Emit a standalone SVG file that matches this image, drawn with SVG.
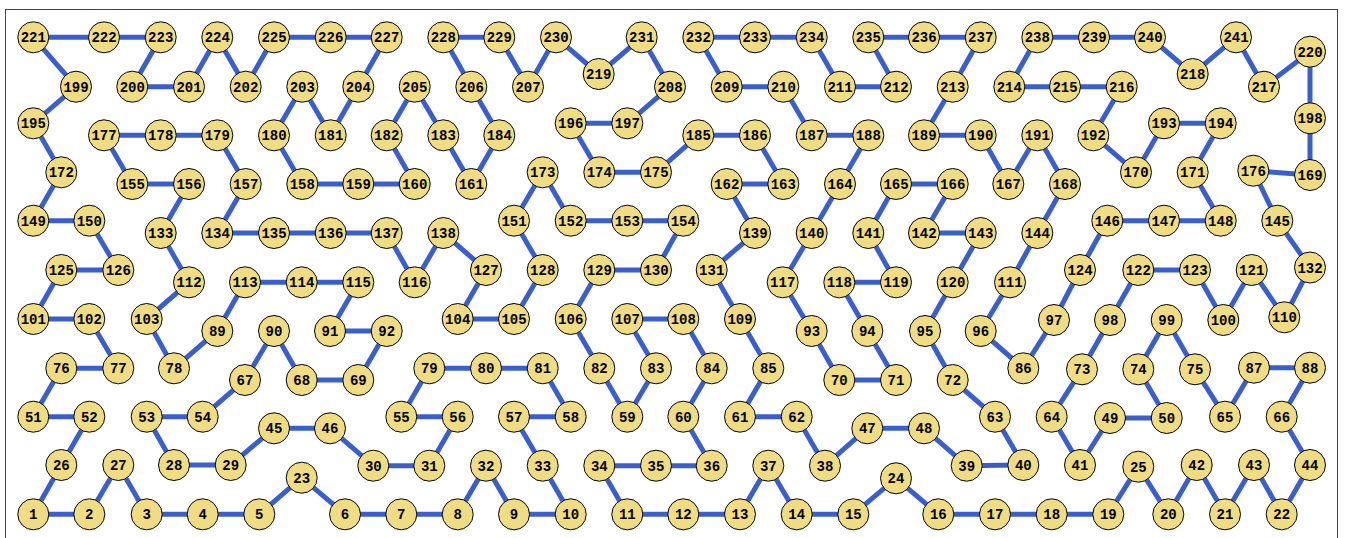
<svg xmlns="http://www.w3.org/2000/svg" width="1345" height="538" viewBox="0 0 1345 538">
<style>
.e line{stroke:#3a5fcd;stroke-width:5;stroke-linecap:butt}
.n circle{fill:#f0dc82;stroke:#000;stroke-width:1}
.n text{font-family:"Liberation Mono","DejaVu Sans Mono",monospace;font-weight:bold;font-size:14px;text-anchor:middle;fill:#000}
</style>
<rect x="0" y="0" width="1345" height="538" fill="#fff"/>
<rect x="5.5" y="9.5" width="1332" height="540" fill="none" stroke="#444" stroke-width="1"/>
<g id="edges" class="e">
<line x1="33.3" y1="514.3" x2="89.3" y2="514.3"/>
<line x1="89.3" y1="514.3" x2="118.3" y2="465"/>
<line x1="118.3" y1="465" x2="146.7" y2="514.3"/>
<line x1="146.7" y1="514.3" x2="202.7" y2="514.3"/>
<line x1="202.7" y1="514.3" x2="259.3" y2="514.3"/>
<line x1="259.3" y1="514.3" x2="301.7" y2="477.7"/>
<line x1="301.7" y1="477.7" x2="345" y2="514.3"/>
<line x1="345" y1="514.3" x2="401.3" y2="514.3"/>
<line x1="401.3" y1="514.3" x2="457.7" y2="514.3"/>
<line x1="457.7" y1="514.3" x2="486" y2="465.7"/>
<line x1="486" y1="465.7" x2="514" y2="514.3"/>
<line x1="514" y1="514.3" x2="570.7" y2="514.3"/>
<line x1="570.7" y1="514.3" x2="542.7" y2="465.7"/>
<line x1="542.7" y1="465.7" x2="514" y2="416.7"/>
<line x1="514" y1="416.7" x2="570.7" y2="416.7"/>
<line x1="570.7" y1="416.7" x2="542.7" y2="368.3"/>
<line x1="542.7" y1="368.3" x2="486" y2="368.3"/>
<line x1="486" y1="368.3" x2="429.3" y2="368.3"/>
<line x1="429.3" y1="368.3" x2="401.3" y2="416.7"/>
<line x1="401.3" y1="416.7" x2="457.7" y2="416.7"/>
<line x1="457.7" y1="416.7" x2="429.3" y2="465.7"/>
<line x1="429.3" y1="465.7" x2="373.3" y2="465.7"/>
<line x1="373.3" y1="465.7" x2="330" y2="428.3"/>
<line x1="330" y1="428.3" x2="274" y2="428.3"/>
<line x1="274" y1="428.3" x2="230.7" y2="465"/>
<line x1="230.7" y1="465" x2="174" y2="465"/>
<line x1="174" y1="465" x2="146.7" y2="416.7"/>
<line x1="146.7" y1="416.7" x2="202.7" y2="416.7"/>
<line x1="202.7" y1="416.7" x2="245" y2="380"/>
<line x1="245" y1="380" x2="274" y2="331"/>
<line x1="274" y1="331" x2="301.7" y2="380"/>
<line x1="301.7" y1="380" x2="358.3" y2="380"/>
<line x1="358.3" y1="380" x2="386.7" y2="331"/>
<line x1="386.7" y1="331" x2="330" y2="331"/>
<line x1="330" y1="331" x2="358.3" y2="282.3"/>
<line x1="358.3" y1="282.3" x2="301.7" y2="282.3"/>
<line x1="301.7" y1="282.3" x2="245" y2="282.3"/>
<line x1="245" y1="282.3" x2="217.3" y2="331"/>
<line x1="217.3" y1="331" x2="174" y2="368.3"/>
<line x1="174" y1="368.3" x2="146.7" y2="319"/>
<line x1="146.7" y1="319" x2="189" y2="282.3"/>
<line x1="189" y1="282.3" x2="160.7" y2="233"/>
<line x1="160.7" y1="233" x2="189" y2="184"/>
<line x1="189" y1="184" x2="132.3" y2="184"/>
<line x1="132.3" y1="184" x2="104" y2="135.3"/>
<line x1="104" y1="135.3" x2="160.7" y2="135.3"/>
<line x1="160.7" y1="135.3" x2="217.3" y2="135.3"/>
<line x1="217.3" y1="135.3" x2="245.7" y2="184"/>
<line x1="245.7" y1="184" x2="217.3" y2="233"/>
<line x1="217.3" y1="233" x2="274" y2="233"/>
<line x1="274" y1="233" x2="330.7" y2="233"/>
<line x1="330.7" y1="233" x2="386.7" y2="233"/>
<line x1="386.7" y1="233" x2="414.7" y2="282.3"/>
<line x1="414.7" y1="282.3" x2="443.3" y2="233"/>
<line x1="443.3" y1="233" x2="486" y2="270"/>
<line x1="486" y1="270" x2="457.7" y2="319"/>
<line x1="457.7" y1="319" x2="514" y2="319"/>
<line x1="514" y1="319" x2="542.7" y2="270"/>
<line x1="542.7" y1="270" x2="514" y2="220.7"/>
<line x1="514" y1="220.7" x2="542.7" y2="172.3"/>
<line x1="542.7" y1="172.3" x2="570.7" y2="220.7"/>
<line x1="570.7" y1="220.7" x2="627.3" y2="220.7"/>
<line x1="627.3" y1="220.7" x2="683.3" y2="220.7"/>
<line x1="683.3" y1="220.7" x2="656" y2="270"/>
<line x1="656" y1="270" x2="599.3" y2="270"/>
<line x1="599.3" y1="270" x2="570.7" y2="319"/>
<line x1="570.7" y1="319" x2="599.3" y2="368.3"/>
<line x1="599.3" y1="368.3" x2="627.3" y2="416.7"/>
<line x1="627.3" y1="416.7" x2="656" y2="368.3"/>
<line x1="656" y1="368.3" x2="627.3" y2="319"/>
<line x1="627.3" y1="319" x2="683.3" y2="319"/>
<line x1="683.3" y1="319" x2="711.7" y2="368.3"/>
<line x1="711.7" y1="368.3" x2="683.3" y2="416.7"/>
<line x1="683.3" y1="416.7" x2="711.7" y2="465.7"/>
<line x1="711.7" y1="465.7" x2="656" y2="465.7"/>
<line x1="656" y1="465.7" x2="599.3" y2="465.7"/>
<line x1="599.3" y1="465.7" x2="627.3" y2="514.3"/>
<line x1="627.3" y1="514.3" x2="683.3" y2="514.3"/>
<line x1="683.3" y1="514.3" x2="740" y2="514.3"/>
<line x1="740" y1="514.3" x2="768.3" y2="465.7"/>
<line x1="768.3" y1="465.7" x2="796.7" y2="514.3"/>
<line x1="796.7" y1="514.3" x2="853.3" y2="514.3"/>
<line x1="853.3" y1="514.3" x2="896" y2="478.3"/>
<line x1="896" y1="478.3" x2="938.3" y2="514.3"/>
<line x1="938.3" y1="514.3" x2="995" y2="514.3"/>
<line x1="995" y1="514.3" x2="1051.7" y2="514.3"/>
<line x1="1051.7" y1="514.3" x2="1108.3" y2="514.3"/>
<line x1="1108.3" y1="514.3" x2="1138.3" y2="466.7"/>
<line x1="1138.3" y1="466.7" x2="1168.3" y2="514.3"/>
<line x1="1168.3" y1="514.3" x2="1196.7" y2="465"/>
<line x1="1196.7" y1="465" x2="1225" y2="514.3"/>
<line x1="1225" y1="514.3" x2="1254" y2="465"/>
<line x1="1254" y1="465" x2="1281.7" y2="514.3"/>
<line x1="1281.7" y1="514.3" x2="1310" y2="465"/>
<line x1="1310" y1="465" x2="1281.7" y2="416.7"/>
<line x1="1281.7" y1="416.7" x2="1310" y2="367.7"/>
<line x1="1310" y1="367.7" x2="1254" y2="367.7"/>
<line x1="1254" y1="367.7" x2="1225" y2="416.7"/>
<line x1="1225" y1="416.7" x2="1195" y2="369.3"/>
<line x1="1195" y1="369.3" x2="1166.7" y2="320"/>
<line x1="1166.7" y1="320" x2="1138.3" y2="369.3"/>
<line x1="1138.3" y1="369.3" x2="1166.7" y2="418"/>
<line x1="1166.7" y1="418" x2="1110" y2="418"/>
<line x1="1110" y1="418" x2="1080" y2="465"/>
<line x1="1080" y1="465" x2="1051.7" y2="416.7"/>
<line x1="1051.7" y1="416.7" x2="1082" y2="369.3"/>
<line x1="1082" y1="369.3" x2="1110" y2="320"/>
<line x1="1110" y1="320" x2="1138.3" y2="270"/>
<line x1="1138.3" y1="270" x2="1195" y2="270"/>
<line x1="1195" y1="270" x2="1223.3" y2="320"/>
<line x1="1223.3" y1="320" x2="1251.7" y2="270"/>
<line x1="1251.7" y1="270" x2="1284.3" y2="317.3"/>
<line x1="1284.3" y1="317.3" x2="1310" y2="267.5"/>
<line x1="1310" y1="267.5" x2="1277.3" y2="220.7"/>
<line x1="1277.3" y1="220.7" x2="1253.3" y2="170.7"/>
<line x1="1253.3" y1="170.7" x2="1310" y2="175"/>
<line x1="1310" y1="175" x2="1310" y2="118.3"/>
<line x1="1310" y1="118.3" x2="1310" y2="51.7"/>
<line x1="1310" y1="51.7" x2="1264" y2="86.7"/>
<line x1="1264" y1="86.7" x2="1236" y2="37.3"/>
<line x1="1236" y1="37.3" x2="1192.7" y2="74"/>
<line x1="1192.7" y1="74" x2="1150" y2="37.3"/>
<line x1="1150" y1="37.3" x2="1094" y2="37.3"/>
<line x1="1094" y1="37.3" x2="1037.3" y2="37.3"/>
<line x1="1037.3" y1="37.3" x2="1009.3" y2="86.7"/>
<line x1="1009.3" y1="86.7" x2="1065" y2="86.7"/>
<line x1="1065" y1="86.7" x2="1121.7" y2="86.7"/>
<line x1="1121.7" y1="86.7" x2="1093.3" y2="135.3"/>
<line x1="1093.3" y1="135.3" x2="1136" y2="172.3"/>
<line x1="1136" y1="172.3" x2="1164" y2="123.3"/>
<line x1="1164" y1="123.3" x2="1220.7" y2="123.3"/>
<line x1="1220.7" y1="123.3" x2="1192.7" y2="172.3"/>
<line x1="1192.7" y1="172.3" x2="1220.7" y2="220.7"/>
<line x1="1220.7" y1="220.7" x2="1164" y2="220.7"/>
<line x1="1164" y1="220.7" x2="1107.3" y2="220.7"/>
<line x1="1107.3" y1="220.7" x2="1080" y2="270"/>
<line x1="1080" y1="270" x2="1054" y2="320"/>
<line x1="1054" y1="320" x2="1023.3" y2="368.3"/>
<line x1="1023.3" y1="368.3" x2="980.7" y2="331"/>
<line x1="980.7" y1="331" x2="1010" y2="282.3"/>
<line x1="1010" y1="282.3" x2="1037.3" y2="233"/>
<line x1="1037.3" y1="233" x2="1065" y2="184"/>
<line x1="1065" y1="184" x2="1037.3" y2="135.3"/>
<line x1="1037.3" y1="135.3" x2="1008.3" y2="184"/>
<line x1="1008.3" y1="184" x2="980.7" y2="135.3"/>
<line x1="980.7" y1="135.3" x2="924" y2="135.3"/>
<line x1="924" y1="135.3" x2="952.7" y2="86.7"/>
<line x1="952.7" y1="86.7" x2="980.7" y2="37.3"/>
<line x1="980.7" y1="37.3" x2="924" y2="37.3"/>
<line x1="924" y1="37.3" x2="868.3" y2="37.3"/>
<line x1="868.3" y1="37.3" x2="896" y2="86.7"/>
<line x1="896" y1="86.7" x2="840" y2="86.7"/>
<line x1="840" y1="86.7" x2="811.7" y2="37.3"/>
<line x1="811.7" y1="37.3" x2="755" y2="37.3"/>
<line x1="755" y1="37.3" x2="698.3" y2="37.3"/>
<line x1="698.3" y1="37.3" x2="726.7" y2="86.7"/>
<line x1="726.7" y1="86.7" x2="783.3" y2="86.7"/>
<line x1="783.3" y1="86.7" x2="811.7" y2="135.3"/>
<line x1="811.7" y1="135.3" x2="868.3" y2="135.3"/>
<line x1="868.3" y1="135.3" x2="840" y2="184"/>
<line x1="840" y1="184" x2="811.7" y2="233"/>
<line x1="811.7" y1="233" x2="782.7" y2="282.3"/>
<line x1="782.7" y1="282.3" x2="811.7" y2="331"/>
<line x1="811.7" y1="331" x2="839.3" y2="380"/>
<line x1="839.3" y1="380" x2="896" y2="380"/>
<line x1="896" y1="380" x2="867.3" y2="331"/>
<line x1="867.3" y1="331" x2="839.3" y2="282.3"/>
<line x1="839.3" y1="282.3" x2="896" y2="282.3"/>
<line x1="896" y1="282.3" x2="868.3" y2="233"/>
<line x1="868.3" y1="233" x2="896" y2="184"/>
<line x1="896" y1="184" x2="952.7" y2="184"/>
<line x1="952.7" y1="184" x2="924" y2="233"/>
<line x1="924" y1="233" x2="980.7" y2="233"/>
<line x1="980.7" y1="233" x2="952.7" y2="282.3"/>
<line x1="952.7" y1="282.3" x2="925" y2="331"/>
<line x1="925" y1="331" x2="952.7" y2="380"/>
<line x1="952.7" y1="380" x2="995" y2="416.7"/>
<line x1="995" y1="416.7" x2="1023.3" y2="465"/>
<line x1="1023.3" y1="465" x2="966.7" y2="465.7"/>
<line x1="966.7" y1="465.7" x2="924" y2="428.3"/>
<line x1="924" y1="428.3" x2="867.3" y2="428.3"/>
<line x1="867.3" y1="428.3" x2="825" y2="465.7"/>
<line x1="825" y1="465.7" x2="796.7" y2="416.7"/>
<line x1="796.7" y1="416.7" x2="740" y2="416.7"/>
<line x1="740" y1="416.7" x2="768.3" y2="368.3"/>
<line x1="768.3" y1="368.3" x2="740" y2="319"/>
<line x1="740" y1="319" x2="711.7" y2="270"/>
<line x1="711.7" y1="270" x2="755" y2="233"/>
<line x1="755" y1="233" x2="726.7" y2="184"/>
<line x1="726.7" y1="184" x2="783.3" y2="184"/>
<line x1="783.3" y1="184" x2="755" y2="135.3"/>
<line x1="755" y1="135.3" x2="698.3" y2="135.3"/>
<line x1="698.3" y1="135.3" x2="656" y2="172.3"/>
<line x1="656" y1="172.3" x2="599.3" y2="172.3"/>
<line x1="599.3" y1="172.3" x2="570.7" y2="123.3"/>
<line x1="570.7" y1="123.3" x2="627.3" y2="123.3"/>
<line x1="627.3" y1="123.3" x2="670" y2="86.7"/>
<line x1="670" y1="86.7" x2="641.7" y2="37.3"/>
<line x1="641.7" y1="37.3" x2="598.7" y2="74"/>
<line x1="598.7" y1="74" x2="556" y2="37.3"/>
<line x1="556" y1="37.3" x2="528" y2="86.7"/>
<line x1="528" y1="86.7" x2="499.3" y2="37.3"/>
<line x1="499.3" y1="37.3" x2="443.3" y2="37.3"/>
<line x1="443.3" y1="37.3" x2="471.3" y2="86.7"/>
<line x1="471.3" y1="86.7" x2="499.3" y2="135.3"/>
<line x1="499.3" y1="135.3" x2="471.3" y2="184"/>
<line x1="471.3" y1="184" x2="443.3" y2="135.3"/>
<line x1="443.3" y1="135.3" x2="414.7" y2="86.7"/>
<line x1="414.7" y1="86.7" x2="386.7" y2="135.3"/>
<line x1="386.7" y1="135.3" x2="414.7" y2="184"/>
<line x1="414.7" y1="184" x2="358.3" y2="184"/>
<line x1="358.3" y1="184" x2="302.3" y2="184"/>
<line x1="302.3" y1="184" x2="274" y2="135.3"/>
<line x1="274" y1="135.3" x2="302.3" y2="86.7"/>
<line x1="302.3" y1="86.7" x2="330.7" y2="135.3"/>
<line x1="330.7" y1="135.3" x2="358.3" y2="86.7"/>
<line x1="358.3" y1="86.7" x2="386.7" y2="37.3"/>
<line x1="386.7" y1="37.3" x2="330.7" y2="37.3"/>
<line x1="330.7" y1="37.3" x2="274" y2="37.3"/>
<line x1="274" y1="37.3" x2="245.7" y2="86.7"/>
<line x1="245.7" y1="86.7" x2="217.3" y2="37.3"/>
<line x1="217.3" y1="37.3" x2="189" y2="86.7"/>
<line x1="189" y1="86.7" x2="132.3" y2="86.7"/>
<line x1="132.3" y1="86.7" x2="160.7" y2="37.3"/>
<line x1="160.7" y1="37.3" x2="104" y2="37.3"/>
<line x1="104" y1="37.3" x2="33.3" y2="37.3"/>
<line x1="33.3" y1="37.3" x2="76" y2="86.7"/>
<line x1="76" y1="86.7" x2="33.3" y2="123.3"/>
<line x1="33.3" y1="123.3" x2="61.3" y2="172.3"/>
<line x1="61.3" y1="172.3" x2="33.3" y2="220.7"/>
<line x1="33.3" y1="220.7" x2="89.3" y2="220.7"/>
<line x1="89.3" y1="220.7" x2="118.3" y2="270"/>
<line x1="118.3" y1="270" x2="61.3" y2="270"/>
<line x1="61.3" y1="270" x2="33.3" y2="319"/>
<line x1="33.3" y1="319" x2="89.3" y2="319"/>
<line x1="89.3" y1="319" x2="118.3" y2="368.3"/>
<line x1="118.3" y1="368.3" x2="61.3" y2="368.3"/>
<line x1="61.3" y1="368.3" x2="33.3" y2="416.7"/>
<line x1="33.3" y1="416.7" x2="89.3" y2="416.7"/>
<line x1="89.3" y1="416.7" x2="61.3" y2="465"/>
<line x1="61.3" y1="465" x2="33.3" y2="514.3"/>
</g>
<g id="nodes" class="n">
<g id="n1" transform="translate(33.3 514.3)"><circle r="15.5"/><text y="5">1</text></g>
<g id="n2" transform="translate(89.3 514.3)"><circle r="15.5"/><text y="5">2</text></g>
<g id="n3" transform="translate(146.7 514.3)"><circle r="15.5"/><text y="5">3</text></g>
<g id="n4" transform="translate(202.7 514.3)"><circle r="15.5"/><text y="5">4</text></g>
<g id="n5" transform="translate(259.3 514.3)"><circle r="15.5"/><text y="5">5</text></g>
<g id="n6" transform="translate(345 514.3)"><circle r="15.5"/><text y="5">6</text></g>
<g id="n7" transform="translate(401.3 514.3)"><circle r="15.5"/><text y="5">7</text></g>
<g id="n8" transform="translate(457.7 514.3)"><circle r="15.5"/><text y="5">8</text></g>
<g id="n9" transform="translate(514 514.3)"><circle r="15.5"/><text y="5">9</text></g>
<g id="n10" transform="translate(570.7 514.3)"><circle r="15.5"/><text y="5">10</text></g>
<g id="n11" transform="translate(627.3 514.3)"><circle r="15.5"/><text y="5">11</text></g>
<g id="n12" transform="translate(683.3 514.3)"><circle r="15.5"/><text y="5">12</text></g>
<g id="n13" transform="translate(740 514.3)"><circle r="15.5"/><text y="5">13</text></g>
<g id="n14" transform="translate(796.7 514.3)"><circle r="15.5"/><text y="5">14</text></g>
<g id="n15" transform="translate(853.3 514.3)"><circle r="15.5"/><text y="5">15</text></g>
<g id="n16" transform="translate(938.3 514.3)"><circle r="15.5"/><text y="5">16</text></g>
<g id="n17" transform="translate(995 514.3)"><circle r="15.5"/><text y="5">17</text></g>
<g id="n18" transform="translate(1051.7 514.3)"><circle r="15.5"/><text y="5">18</text></g>
<g id="n19" transform="translate(1108.3 514.3)"><circle r="15.5"/><text y="5">19</text></g>
<g id="n20" transform="translate(1168.3 514.3)"><circle r="15.5"/><text y="5">20</text></g>
<g id="n21" transform="translate(1225 514.3)"><circle r="15.5"/><text y="5">21</text></g>
<g id="n22" transform="translate(1281.7 514.3)"><circle r="15.5"/><text y="5">22</text></g>
<g id="n23" transform="translate(301.7 477.7)"><circle r="15.5"/><text y="5">23</text></g>
<g id="n24" transform="translate(896 478.3)"><circle r="15.5"/><text y="5">24</text></g>
<g id="n25" transform="translate(1138.3 466.7)"><circle r="15.5"/><text y="5">25</text></g>
<g id="n26" transform="translate(61.3 465)"><circle r="15.5"/><text y="5">26</text></g>
<g id="n27" transform="translate(118.3 465)"><circle r="15.5"/><text y="5">27</text></g>
<g id="n28" transform="translate(174 465)"><circle r="15.5"/><text y="5">28</text></g>
<g id="n29" transform="translate(230.7 465)"><circle r="15.5"/><text y="5">29</text></g>
<g id="n30" transform="translate(373.3 465.7)"><circle r="15.5"/><text y="5">30</text></g>
<g id="n31" transform="translate(429.3 465.7)"><circle r="15.5"/><text y="5">31</text></g>
<g id="n32" transform="translate(486 465.7)"><circle r="15.5"/><text y="5">32</text></g>
<g id="n33" transform="translate(542.7 465.7)"><circle r="15.5"/><text y="5">33</text></g>
<g id="n34" transform="translate(599.3 465.7)"><circle r="15.5"/><text y="5">34</text></g>
<g id="n35" transform="translate(656 465.7)"><circle r="15.5"/><text y="5">35</text></g>
<g id="n36" transform="translate(711.7 465.7)"><circle r="15.5"/><text y="5">36</text></g>
<g id="n37" transform="translate(768.3 465.7)"><circle r="15.5"/><text y="5">37</text></g>
<g id="n38" transform="translate(825 465.7)"><circle r="15.5"/><text y="5">38</text></g>
<g id="n39" transform="translate(966.7 465.7)"><circle r="15.5"/><text y="5">39</text></g>
<g id="n40" transform="translate(1023.3 465)"><circle r="15.5"/><text y="5">40</text></g>
<g id="n41" transform="translate(1080 465)"><circle r="15.5"/><text y="5">41</text></g>
<g id="n42" transform="translate(1196.7 465)"><circle r="15.5"/><text y="5">42</text></g>
<g id="n43" transform="translate(1254 465)"><circle r="15.5"/><text y="5">43</text></g>
<g id="n44" transform="translate(1310 465)"><circle r="15.5"/><text y="5">44</text></g>
<g id="n45" transform="translate(274 428.3)"><circle r="15.5"/><text y="5">45</text></g>
<g id="n46" transform="translate(330 428.3)"><circle r="15.5"/><text y="5">46</text></g>
<g id="n47" transform="translate(867.3 428.3)"><circle r="15.5"/><text y="5">47</text></g>
<g id="n48" transform="translate(924 428.3)"><circle r="15.5"/><text y="5">48</text></g>
<g id="n49" transform="translate(1110 418)"><circle r="15.5"/><text y="5">49</text></g>
<g id="n50" transform="translate(1166.7 418)"><circle r="15.5"/><text y="5">50</text></g>
<g id="n51" transform="translate(33.3 416.7)"><circle r="15.5"/><text y="5">51</text></g>
<g id="n52" transform="translate(89.3 416.7)"><circle r="15.5"/><text y="5">52</text></g>
<g id="n53" transform="translate(146.7 416.7)"><circle r="15.5"/><text y="5">53</text></g>
<g id="n54" transform="translate(202.7 416.7)"><circle r="15.5"/><text y="5">54</text></g>
<g id="n55" transform="translate(401.3 416.7)"><circle r="15.5"/><text y="5">55</text></g>
<g id="n56" transform="translate(457.7 416.7)"><circle r="15.5"/><text y="5">56</text></g>
<g id="n57" transform="translate(514 416.7)"><circle r="15.5"/><text y="5">57</text></g>
<g id="n58" transform="translate(570.7 416.7)"><circle r="15.5"/><text y="5">58</text></g>
<g id="n59" transform="translate(627.3 416.7)"><circle r="15.5"/><text y="5">59</text></g>
<g id="n60" transform="translate(683.3 416.7)"><circle r="15.5"/><text y="5">60</text></g>
<g id="n61" transform="translate(740 416.7)"><circle r="15.5"/><text y="5">61</text></g>
<g id="n62" transform="translate(796.7 416.7)"><circle r="15.5"/><text y="5">62</text></g>
<g id="n63" transform="translate(995 416.7)"><circle r="15.5"/><text y="5">63</text></g>
<g id="n64" transform="translate(1051.7 416.7)"><circle r="15.5"/><text y="5">64</text></g>
<g id="n65" transform="translate(1225 416.7)"><circle r="15.5"/><text y="5">65</text></g>
<g id="n66" transform="translate(1281.7 416.7)"><circle r="15.5"/><text y="5">66</text></g>
<g id="n67" transform="translate(245 380)"><circle r="15.5"/><text y="5">67</text></g>
<g id="n68" transform="translate(301.7 380)"><circle r="15.5"/><text y="5">68</text></g>
<g id="n69" transform="translate(358.3 380)"><circle r="15.5"/><text y="5">69</text></g>
<g id="n70" transform="translate(839.3 380)"><circle r="15.5"/><text y="5">70</text></g>
<g id="n71" transform="translate(896 380)"><circle r="15.5"/><text y="5">71</text></g>
<g id="n72" transform="translate(952.7 380)"><circle r="15.5"/><text y="5">72</text></g>
<g id="n73" transform="translate(1082 369.3)"><circle r="15.5"/><text y="5">73</text></g>
<g id="n74" transform="translate(1138.3 369.3)"><circle r="15.5"/><text y="5">74</text></g>
<g id="n75" transform="translate(1195 369.3)"><circle r="15.5"/><text y="5">75</text></g>
<g id="n76" transform="translate(61.3 368.3)"><circle r="15.5"/><text y="5">76</text></g>
<g id="n77" transform="translate(118.3 368.3)"><circle r="15.5"/><text y="5">77</text></g>
<g id="n78" transform="translate(174 368.3)"><circle r="15.5"/><text y="5">78</text></g>
<g id="n79" transform="translate(429.3 368.3)"><circle r="15.5"/><text y="5">79</text></g>
<g id="n80" transform="translate(486 368.3)"><circle r="15.5"/><text y="5">80</text></g>
<g id="n81" transform="translate(542.7 368.3)"><circle r="15.5"/><text y="5">81</text></g>
<g id="n82" transform="translate(599.3 368.3)"><circle r="15.5"/><text y="5">82</text></g>
<g id="n83" transform="translate(656 368.3)"><circle r="15.5"/><text y="5">83</text></g>
<g id="n84" transform="translate(711.7 368.3)"><circle r="15.5"/><text y="5">84</text></g>
<g id="n85" transform="translate(768.3 368.3)"><circle r="15.5"/><text y="5">85</text></g>
<g id="n86" transform="translate(1023.3 368.3)"><circle r="15.5"/><text y="5">86</text></g>
<g id="n87" transform="translate(1254 367.7)"><circle r="15.5"/><text y="5">87</text></g>
<g id="n88" transform="translate(1310 367.7)"><circle r="15.5"/><text y="5">88</text></g>
<g id="n89" transform="translate(217.3 331)"><circle r="15.5"/><text y="5">89</text></g>
<g id="n90" transform="translate(274 331)"><circle r="15.5"/><text y="5">90</text></g>
<g id="n91" transform="translate(330 331)"><circle r="15.5"/><text y="5">91</text></g>
<g id="n92" transform="translate(386.7 331)"><circle r="15.5"/><text y="5">92</text></g>
<g id="n93" transform="translate(811.7 331)"><circle r="15.5"/><text y="5">93</text></g>
<g id="n94" transform="translate(867.3 331)"><circle r="15.5"/><text y="5">94</text></g>
<g id="n95" transform="translate(925 331)"><circle r="15.5"/><text y="5">95</text></g>
<g id="n96" transform="translate(980.7 331)"><circle r="15.5"/><text y="5">96</text></g>
<g id="n97" transform="translate(1054 320)"><circle r="15.5"/><text y="5">97</text></g>
<g id="n98" transform="translate(1110 320)"><circle r="15.5"/><text y="5">98</text></g>
<g id="n99" transform="translate(1166.7 320)"><circle r="15.5"/><text y="5">99</text></g>
<g id="n100" transform="translate(1223.3 320)"><circle r="15.5"/><text y="5">100</text></g>
<g id="n101" transform="translate(33.3 319)"><circle r="15.5"/><text y="5">101</text></g>
<g id="n102" transform="translate(89.3 319)"><circle r="15.5"/><text y="5">102</text></g>
<g id="n103" transform="translate(146.7 319)"><circle r="15.5"/><text y="5">103</text></g>
<g id="n104" transform="translate(457.7 319)"><circle r="15.5"/><text y="5">104</text></g>
<g id="n105" transform="translate(514 319)"><circle r="15.5"/><text y="5">105</text></g>
<g id="n106" transform="translate(570.7 319)"><circle r="15.5"/><text y="5">106</text></g>
<g id="n107" transform="translate(627.3 319)"><circle r="15.5"/><text y="5">107</text></g>
<g id="n108" transform="translate(683.3 319)"><circle r="15.5"/><text y="5">108</text></g>
<g id="n109" transform="translate(740 319)"><circle r="15.5"/><text y="5">109</text></g>
<g id="n110" transform="translate(1284.3 317.3)"><circle r="15.5"/><text y="5">110</text></g>
<g id="n111" transform="translate(1010 282.3)"><circle r="15.5"/><text y="5">111</text></g>
<g id="n112" transform="translate(189 282.3)"><circle r="15.5"/><text y="5">112</text></g>
<g id="n113" transform="translate(245 282.3)"><circle r="15.5"/><text y="5">113</text></g>
<g id="n114" transform="translate(301.7 282.3)"><circle r="15.5"/><text y="5">114</text></g>
<g id="n115" transform="translate(358.3 282.3)"><circle r="15.5"/><text y="5">115</text></g>
<g id="n116" transform="translate(414.7 282.3)"><circle r="15.5"/><text y="5">116</text></g>
<g id="n117" transform="translate(782.7 282.3)"><circle r="15.5"/><text y="5">117</text></g>
<g id="n118" transform="translate(839.3 282.3)"><circle r="15.5"/><text y="5">118</text></g>
<g id="n119" transform="translate(896 282.3)"><circle r="15.5"/><text y="5">119</text></g>
<g id="n120" transform="translate(952.7 282.3)"><circle r="15.5"/><text y="5">120</text></g>
<g id="n121" transform="translate(1251.7 270)"><circle r="15.5"/><text y="5">121</text></g>
<g id="n122" transform="translate(1138.3 270)"><circle r="15.5"/><text y="5">122</text></g>
<g id="n123" transform="translate(1195 270)"><circle r="15.5"/><text y="5">123</text></g>
<g id="n124" transform="translate(1080 270)"><circle r="15.5"/><text y="5">124</text></g>
<g id="n125" transform="translate(61.3 270)"><circle r="15.5"/><text y="5">125</text></g>
<g id="n126" transform="translate(118.3 270)"><circle r="15.5"/><text y="5">126</text></g>
<g id="n127" transform="translate(486 270)"><circle r="15.5"/><text y="5">127</text></g>
<g id="n128" transform="translate(542.7 270)"><circle r="15.5"/><text y="5">128</text></g>
<g id="n129" transform="translate(599.3 270)"><circle r="15.5"/><text y="5">129</text></g>
<g id="n130" transform="translate(656 270)"><circle r="15.5"/><text y="5">130</text></g>
<g id="n131" transform="translate(711.7 270)"><circle r="15.5"/><text y="5">131</text></g>
<g id="n132" transform="translate(1310 267.5)"><circle r="15.5"/><text y="5">132</text></g>
<g id="n133" transform="translate(160.7 233)"><circle r="15.5"/><text y="5">133</text></g>
<g id="n134" transform="translate(217.3 233)"><circle r="15.5"/><text y="5">134</text></g>
<g id="n135" transform="translate(274 233)"><circle r="15.5"/><text y="5">135</text></g>
<g id="n136" transform="translate(330.7 233)"><circle r="15.5"/><text y="5">136</text></g>
<g id="n137" transform="translate(386.7 233)"><circle r="15.5"/><text y="5">137</text></g>
<g id="n138" transform="translate(443.3 233)"><circle r="15.5"/><text y="5">138</text></g>
<g id="n139" transform="translate(755 233)"><circle r="15.5"/><text y="5">139</text></g>
<g id="n140" transform="translate(811.7 233)"><circle r="15.5"/><text y="5">140</text></g>
<g id="n141" transform="translate(868.3 233)"><circle r="15.5"/><text y="5">141</text></g>
<g id="n142" transform="translate(924 233)"><circle r="15.5"/><text y="5">142</text></g>
<g id="n143" transform="translate(980.7 233)"><circle r="15.5"/><text y="5">143</text></g>
<g id="n144" transform="translate(1037.3 233)"><circle r="15.5"/><text y="5">144</text></g>
<g id="n145" transform="translate(1277.3 220.7)"><circle r="15.5"/><text y="5">145</text></g>
<g id="n146" transform="translate(1107.3 220.7)"><circle r="15.5"/><text y="5">146</text></g>
<g id="n147" transform="translate(1164 220.7)"><circle r="15.5"/><text y="5">147</text></g>
<g id="n148" transform="translate(1220.7 220.7)"><circle r="15.5"/><text y="5">148</text></g>
<g id="n149" transform="translate(33.3 220.7)"><circle r="15.5"/><text y="5">149</text></g>
<g id="n150" transform="translate(89.3 220.7)"><circle r="15.5"/><text y="5">150</text></g>
<g id="n151" transform="translate(514 220.7)"><circle r="15.5"/><text y="5">151</text></g>
<g id="n152" transform="translate(570.7 220.7)"><circle r="15.5"/><text y="5">152</text></g>
<g id="n153" transform="translate(627.3 220.7)"><circle r="15.5"/><text y="5">153</text></g>
<g id="n154" transform="translate(683.3 220.7)"><circle r="15.5"/><text y="5">154</text></g>
<g id="n155" transform="translate(132.3 184)"><circle r="15.5"/><text y="5">155</text></g>
<g id="n156" transform="translate(189 184)"><circle r="15.5"/><text y="5">156</text></g>
<g id="n157" transform="translate(245.7 184)"><circle r="15.5"/><text y="5">157</text></g>
<g id="n158" transform="translate(302.3 184)"><circle r="15.5"/><text y="5">158</text></g>
<g id="n159" transform="translate(358.3 184)"><circle r="15.5"/><text y="5">159</text></g>
<g id="n160" transform="translate(414.7 184)"><circle r="15.5"/><text y="5">160</text></g>
<g id="n161" transform="translate(471.3 184)"><circle r="15.5"/><text y="5">161</text></g>
<g id="n162" transform="translate(726.7 184)"><circle r="15.5"/><text y="5">162</text></g>
<g id="n163" transform="translate(783.3 184)"><circle r="15.5"/><text y="5">163</text></g>
<g id="n164" transform="translate(840 184)"><circle r="15.5"/><text y="5">164</text></g>
<g id="n165" transform="translate(896 184)"><circle r="15.5"/><text y="5">165</text></g>
<g id="n166" transform="translate(952.7 184)"><circle r="15.5"/><text y="5">166</text></g>
<g id="n167" transform="translate(1008.3 184)"><circle r="15.5"/><text y="5">167</text></g>
<g id="n168" transform="translate(1065 184)"><circle r="15.5"/><text y="5">168</text></g>
<g id="n169" transform="translate(1310 175)"><circle r="15.5"/><text y="5">169</text></g>
<g id="n170" transform="translate(1136 172.3)"><circle r="15.5"/><text y="5">170</text></g>
<g id="n171" transform="translate(1192.7 172.3)"><circle r="15.5"/><text y="5">171</text></g>
<g id="n172" transform="translate(61.3 172.3)"><circle r="15.5"/><text y="5">172</text></g>
<g id="n173" transform="translate(542.7 172.3)"><circle r="15.5"/><text y="5">173</text></g>
<g id="n174" transform="translate(599.3 172.3)"><circle r="15.5"/><text y="5">174</text></g>
<g id="n175" transform="translate(656 172.3)"><circle r="15.5"/><text y="5">175</text></g>
<g id="n176" transform="translate(1253.3 170.7)"><circle r="15.5"/><text y="5">176</text></g>
<g id="n177" transform="translate(104 135.3)"><circle r="15.5"/><text y="5">177</text></g>
<g id="n178" transform="translate(160.7 135.3)"><circle r="15.5"/><text y="5">178</text></g>
<g id="n179" transform="translate(217.3 135.3)"><circle r="15.5"/><text y="5">179</text></g>
<g id="n180" transform="translate(274 135.3)"><circle r="15.5"/><text y="5">180</text></g>
<g id="n181" transform="translate(330.7 135.3)"><circle r="15.5"/><text y="5">181</text></g>
<g id="n182" transform="translate(386.7 135.3)"><circle r="15.5"/><text y="5">182</text></g>
<g id="n183" transform="translate(443.3 135.3)"><circle r="15.5"/><text y="5">183</text></g>
<g id="n184" transform="translate(499.3 135.3)"><circle r="15.5"/><text y="5">184</text></g>
<g id="n185" transform="translate(698.3 135.3)"><circle r="15.5"/><text y="5">185</text></g>
<g id="n186" transform="translate(755 135.3)"><circle r="15.5"/><text y="5">186</text></g>
<g id="n187" transform="translate(811.7 135.3)"><circle r="15.5"/><text y="5">187</text></g>
<g id="n188" transform="translate(868.3 135.3)"><circle r="15.5"/><text y="5">188</text></g>
<g id="n189" transform="translate(924 135.3)"><circle r="15.5"/><text y="5">189</text></g>
<g id="n190" transform="translate(980.7 135.3)"><circle r="15.5"/><text y="5">190</text></g>
<g id="n191" transform="translate(1037.3 135.3)"><circle r="15.5"/><text y="5">191</text></g>
<g id="n192" transform="translate(1093.3 135.3)"><circle r="15.5"/><text y="5">192</text></g>
<g id="n193" transform="translate(1164 123.3)"><circle r="15.5"/><text y="5">193</text></g>
<g id="n194" transform="translate(1220.7 123.3)"><circle r="15.5"/><text y="5">194</text></g>
<g id="n195" transform="translate(33.3 123.3)"><circle r="15.5"/><text y="5">195</text></g>
<g id="n196" transform="translate(570.7 123.3)"><circle r="15.5"/><text y="5">196</text></g>
<g id="n197" transform="translate(627.3 123.3)"><circle r="15.5"/><text y="5">197</text></g>
<g id="n198" transform="translate(1310 118.3)"><circle r="15.5"/><text y="5">198</text></g>
<g id="n199" transform="translate(76 86.7)"><circle r="15.5"/><text y="5">199</text></g>
<g id="n200" transform="translate(132.3 86.7)"><circle r="15.5"/><text y="5">200</text></g>
<g id="n201" transform="translate(189 86.7)"><circle r="15.5"/><text y="5">201</text></g>
<g id="n202" transform="translate(245.7 86.7)"><circle r="15.5"/><text y="5">202</text></g>
<g id="n203" transform="translate(302.3 86.7)"><circle r="15.5"/><text y="5">203</text></g>
<g id="n204" transform="translate(358.3 86.7)"><circle r="15.5"/><text y="5">204</text></g>
<g id="n205" transform="translate(414.7 86.7)"><circle r="15.5"/><text y="5">205</text></g>
<g id="n206" transform="translate(471.3 86.7)"><circle r="15.5"/><text y="5">206</text></g>
<g id="n207" transform="translate(528 86.7)"><circle r="15.5"/><text y="5">207</text></g>
<g id="n208" transform="translate(670 86.7)"><circle r="15.5"/><text y="5">208</text></g>
<g id="n209" transform="translate(726.7 86.7)"><circle r="15.5"/><text y="5">209</text></g>
<g id="n210" transform="translate(783.3 86.7)"><circle r="15.5"/><text y="5">210</text></g>
<g id="n211" transform="translate(840 86.7)"><circle r="15.5"/><text y="5">211</text></g>
<g id="n212" transform="translate(896 86.7)"><circle r="15.5"/><text y="5">212</text></g>
<g id="n213" transform="translate(952.7 86.7)"><circle r="15.5"/><text y="5">213</text></g>
<g id="n214" transform="translate(1009.3 86.7)"><circle r="15.5"/><text y="5">214</text></g>
<g id="n215" transform="translate(1065 86.7)"><circle r="15.5"/><text y="5">215</text></g>
<g id="n216" transform="translate(1121.7 86.7)"><circle r="15.5"/><text y="5">216</text></g>
<g id="n217" transform="translate(1264 86.7)"><circle r="15.5"/><text y="5">217</text></g>
<g id="n218" transform="translate(1192.7 74)"><circle r="15.5"/><text y="5">218</text></g>
<g id="n219" transform="translate(598.7 74)"><circle r="15.5"/><text y="5">219</text></g>
<g id="n220" transform="translate(1310 51.7)"><circle r="15.5"/><text y="5">220</text></g>
<g id="n221" transform="translate(33.3 37.3)"><circle r="15.5"/><text y="5">221</text></g>
<g id="n222" transform="translate(104 37.3)"><circle r="15.5"/><text y="5">222</text></g>
<g id="n223" transform="translate(160.7 37.3)"><circle r="15.5"/><text y="5">223</text></g>
<g id="n224" transform="translate(217.3 37.3)"><circle r="15.5"/><text y="5">224</text></g>
<g id="n225" transform="translate(274 37.3)"><circle r="15.5"/><text y="5">225</text></g>
<g id="n226" transform="translate(330.7 37.3)"><circle r="15.5"/><text y="5">226</text></g>
<g id="n227" transform="translate(386.7 37.3)"><circle r="15.5"/><text y="5">227</text></g>
<g id="n228" transform="translate(443.3 37.3)"><circle r="15.5"/><text y="5">228</text></g>
<g id="n229" transform="translate(499.3 37.3)"><circle r="15.5"/><text y="5">229</text></g>
<g id="n230" transform="translate(556 37.3)"><circle r="15.5"/><text y="5">230</text></g>
<g id="n231" transform="translate(641.7 37.3)"><circle r="15.5"/><text y="5">231</text></g>
<g id="n232" transform="translate(698.3 37.3)"><circle r="15.5"/><text y="5">232</text></g>
<g id="n233" transform="translate(755 37.3)"><circle r="15.5"/><text y="5">233</text></g>
<g id="n234" transform="translate(811.7 37.3)"><circle r="15.5"/><text y="5">234</text></g>
<g id="n235" transform="translate(868.3 37.3)"><circle r="15.5"/><text y="5">235</text></g>
<g id="n236" transform="translate(924 37.3)"><circle r="15.5"/><text y="5">236</text></g>
<g id="n237" transform="translate(980.7 37.3)"><circle r="15.5"/><text y="5">237</text></g>
<g id="n238" transform="translate(1037.3 37.3)"><circle r="15.5"/><text y="5">238</text></g>
<g id="n239" transform="translate(1094 37.3)"><circle r="15.5"/><text y="5">239</text></g>
<g id="n240" transform="translate(1150 37.3)"><circle r="15.5"/><text y="5">240</text></g>
<g id="n241" transform="translate(1236 37.3)"><circle r="15.5"/><text y="5">241</text></g>
</g>
</svg>
